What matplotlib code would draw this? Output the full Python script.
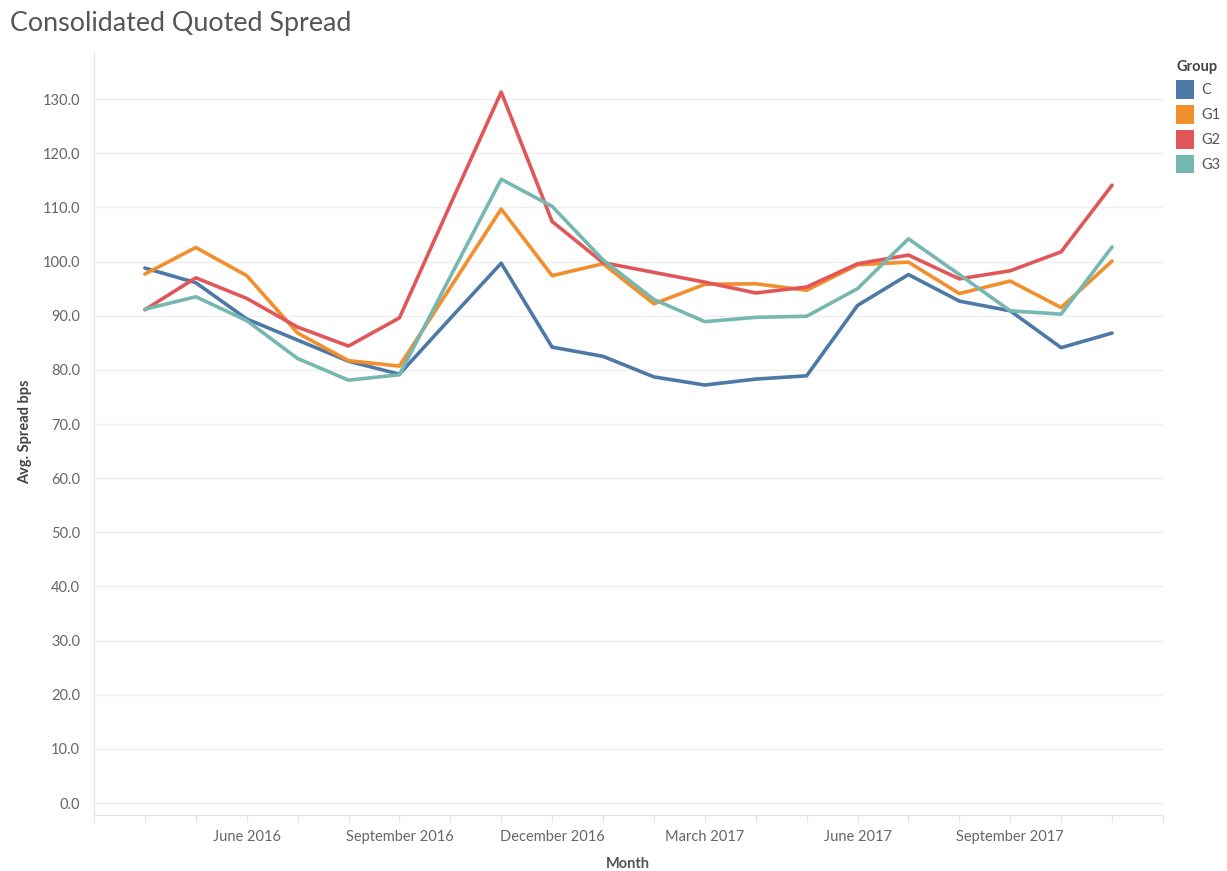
import matplotlib
matplotlib.use('Agg')
import matplotlib.pyplot as plt
from matplotlib.patches import Patch

# ------------------------------------------------------------------------------
# Data, Apr 2016 - Nov 2017
# ------------------------------------------------------------------------------
months = ['April 2016', 'May 2016', 'June 2016', 'July 2016', 'August 2016',
          'September 2016', 'October 2016', 'November 2016', 'December 2016',
          'January 2017', 'February 2017', 'March 2017', 'April 2017',
          'May 2017', 'June 2017', 'July 2017', 'August 2017',
          'September 2017', 'October 2017', 'November 2017']

spread_c = [98.8, 96.1, 89.4, 85.5, 81.6, 79.2, 89.5, 99.7, 84.2, 82.5,
            78.7, 77.2, 78.3, 78.9, 91.9, 97.6, 92.7, 90.9, 84.1, 86.8]
spread_g1 = [97.7, 102.6, 97.4, 86.8, 81.7, 80.7, 95.2, 109.7, 97.4, 99.6,
             92.2, 95.8, 95.9, 94.7, 99.4, 99.9, 94.1, 96.4, 91.5, 100.1]
spread_g2 = [91.1, 97.0, 93.2, 87.9, 84.4, 89.6, 110.5, 131.3, 107.4, 99.8,
             98.0, 96.2, 94.2, 95.3, 99.6, 101.2, 96.8, 98.3, 101.8, 114.1]
spread_g3 = [91.2, 93.5, 89.1, 82.1, 78.1, 79.1, 97.2, 115.2, 110.2, 100.3,
             93.0, 88.9, 89.7, 89.9, 95.0, 104.2, 97.6, 90.9, 90.3, 102.7]

groups = ['C', 'G1', 'G2', 'G3']
series = [spread_c, spread_g1, spread_g2, spread_g3]
colors = ['#4e79a7', '#f28e2b', '#e15759', '#76b7b2']

label_months = ['June 2016', 'September 2016', 'December 2016',
                'March 2017', 'June 2017', 'September 2017']
y_ticks = [0, 10, 20, 30, 40, 50, 60, 70, 80, 90, 100, 110, 120, 130]

# ------------------------------------------------------------------------------
# Plot
# ------------------------------------------------------------------------------
plt.rcParams['font.family'] = ['Lato', 'DejaVu Sans']

fig = plt.figure(figsize=(12.27, 8.71), dpi=100)
ax = fig.add_axes([0.0766, 0.0643, 0.8712, 0.876])

x = list(range(len(months)))
for vals, col in zip(series, colors):
    ax.plot(x, vals, color=col, lw=2.6, solid_joinstyle='round',
            solid_capstyle='round', zorder=3)

ax.set_xlim(-1, len(months))
ax.set_ylim(-2.2, 138.7)

# y axis
ax.set_yticks(y_ticks)
ax.set_yticklabels(['%.1f' % v for v in y_ticks])
ax.grid(axis='y', color='#efefef', lw=1.0, zorder=0)
ax.tick_params(axis='y', length=0, labelsize=10.5, labelcolor='#666666',
               pad=10)

# x axis: a tick every month, labels every quarter
ax.set_xticks(range(-1, len(months) + 1), minor=True)
ax.set_xticks([months.index(m) for m in label_months])
ax.set_xticklabels(label_months)
ax.tick_params(axis='x', which='both', length=5, width=0.8,
               color='#e2e2e2', labelsize=10.5, labelcolor='#666666', pad=6)

for side in ['top', 'right']:
    ax.spines[side].set_visible(False)
for side in ['left', 'bottom']:
    ax.spines[side].set_color('#e6e6e6')
    ax.spines[side].set_linewidth(1.0)

# axis titles
fig.text(25 / 1227, 1 - 432 / 871, 'Avg. Spread bps', fontsize=10.5,
         fontweight='bold', color='#444444', rotation=90,
         ha='center', va='center')
fig.text(628 / 1227, 1 - 864 / 871, 'Month', fontsize=10.5,
         fontweight='bold', color='#555555', ha='center', va='center')

fig.text(0.008, 1 - 24 / 871, 'Consolidated Quoted Spread', fontsize=19.4,
         color='#555555', va='center', ha='left')

# legend
handles = [Patch(facecolor=c, edgecolor='none', label=g)
           for g, c in zip(groups, colors)]
leg = fig.legend(handles=handles, title='Group', loc='upper left',
                 bbox_to_anchor=(0.9585, 1 - 60 / 871), frameon=False,
                 fontsize=10.5, title_fontsize=10.5, handlelength=1.2,
                 handleheight=1.6, handletextpad=0.55, labelspacing=0.42,
                 borderpad=0, borderaxespad=0)
leg.get_title().set_fontweight('bold')
leg.get_title().set_color('#444444')
leg._legend_box.align = 'left'
for t in leg.get_texts():
    t.set_color('#555555')

fig.savefig('out.png', dpi=100)
